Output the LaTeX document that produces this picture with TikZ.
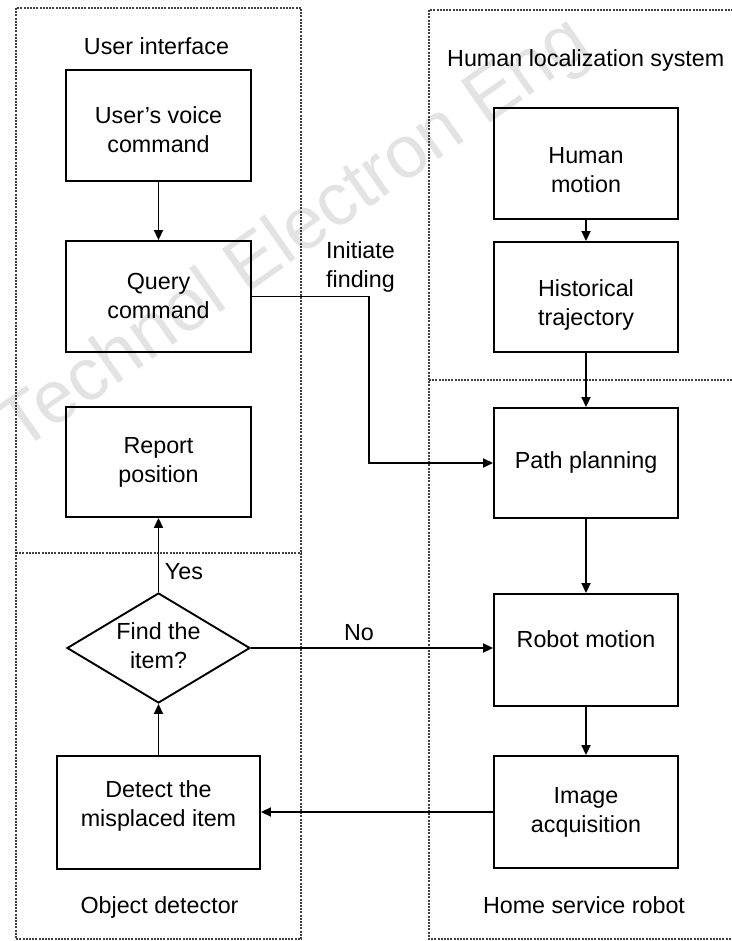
\documentclass[tikz,border=0pt]{standalone}
\usepackage{fontspec}
\setmainfont{Liberation Sans}
\usetikzlibrary{arrows.meta,shapes.geometric,calc}
\newcommand\tb[2]{\raisebox{#1}[\height][\depth]{\begin{tabular}{@{}c@{}}#2\end{tabular}}}
\begin{document}
\begin{tikzpicture}[x=1pt,y=-1pt,
  every node/.style={font=\fontsize{23.3}{29}\selectfont},
  box/.style={draw, line width=1.9pt, minimum width=184pt, minimum height=111pt, inner sep=0pt},
  zone/.style={draw=black!75, line width=1.4pt, dash pattern=on 2pt off 1.2pt},
  arr/.style={line width=1.8pt, -{Triangle[length=10pt,width=9pt]}},
  lbl/.style={anchor=base, inner sep=0pt},
]
\fill[white] (0,0) rectangle (731,941);
\useasboundingbox (0,0) rectangle (731,941);
\node[rotate=35, text=black!11, inner sep=0pt, font=\fontsize{74}{80}\selectfont] (wm) at (296,236) {Technol Electron Eng};

% zones
\draw[zone] (16,8) rectangle (301,939);
\draw[zone] (16,553) -- (301,553);
\draw[zone] (429,10) rectangle (740,939);
\draw[zone] (429,380) -- (740,380);

% left column
\node[box, minimum width=185pt] (voice) at (158.5,125.5) {\tb{-7pt}{User’s voice\\command}};
\node[box, minimum width=185pt] (query) at (158.5,296.5) {\tb{-2pt}{Query\\command}};
\node[box, minimum width=185pt, minimum height=110pt] (report) at (158.5,462) {\tb{0pt}{Report\\position}};
\node[box, minimum width=203pt, minimum height=113pt] (detect) at (158.5,812.5) {\tb{6pt}{Detect the\\misplaced item}};
\node[draw, diamond, line width=1.9pt, minimum width=183pt, minimum height=110pt, inner sep=0pt] (dia) at (158.5,648) {};
\node[inner sep=0pt] (diat) at (dia.center) {\tb{0pt}{Find the\\item?}};

% right column
\node[box] (hm) at (586,163.5) {\tb{-9pt}{Human\\motion}};
\node[box, minimum height=110pt] (ht) at (586,297) {\tb{-8pt}{Historical\\trajectory}};
\node[box, minimum height=110pt] (pp) at (586,463) {\tb{0pt}{Path planning}};
\node[box, minimum height=112pt] (rm) at (586,650) {\tb{8pt}{Robot motion}};
\node[box, minimum height=112pt] (ia) at (586,812) {\tb{0pt}{Image\\acquisition}};

% labels
\node[lbl] (ui) at (156.5,55) {User interface};
\node[lbl, anchor=base west] (hls) at (447,66.7) {Human localization system};
\node[lbl] (od) at (159.5,913) {Object detector};
\node[lbl] (hsr) at (584,913) {Home service robot};
\node[inner sep=0pt] (init) at (360.5,267.2) {\tb{0pt}{Initiate\\finding}};
\node[lbl] (yes) at (184,579) {Yes};
\node[lbl] (no) at (359,640) {No};

% connectors
\draw[arr] (voice) -- (query);
\draw[arr] (hm) -- (ht);
\draw[arr] (ht) -- (pp);
\draw[arr] (pp) -- (rm);
\draw[arr] (rm) -- (ia);
\coordinate (turn) at (369,296.5);
\draw[arr] (query.east) -- (turn) |- (pp.west);
\draw[arr] (dia.east) -- (dia.east -| rm.west);
\draw[arr] (ia.west) -- (ia.west -| detect.east);
\draw[arr] (detect.north) -- (dia.south);
\draw[arr] (dia.north) -- (report.south);
\end{tikzpicture}
\end{document}
